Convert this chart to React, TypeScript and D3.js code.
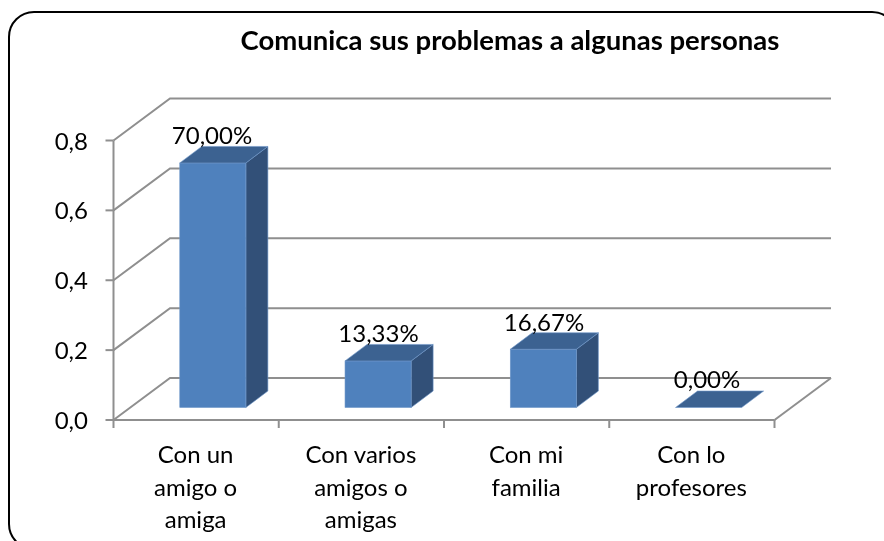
import React, { useEffect, useRef } from 'react';
import * as d3 from 'd3';

// Datos
const categories: string[][] = [
  ['Con un', 'amigo o', 'amiga'],
  ['Con varios', 'amigos o', 'amigas'],
  ['Con mi', 'familia'],
  ['Con lo', 'profesores'],
];
const values = [0.7, 0.1333, 0.1667, 0];
const valueLabels = ['70,00%', '13,33%', '16,67%', '0,00%'];
const yTicks = [0, 0.2, 0.4, 0.6, 0.8];
const title = 'Comunica sus problemas a algunas personas';

const FONT = 'Lato, Carlito, Calibri, sans-serif';

const App = () => {
  const ref = useRef<SVGSVGElement>(null);

  useEffect(() => {
    const svg = d3.select(ref.current);
    svg.selectAll('*').remove();

    const width = 884;
    const height = 541;

    // marco (se corta por la derecha y por abajo)
    svg
      .append('rect')
      .attr('x', 9)
      .attr('y', 12)
      .attr('width', 888)
      .attr('height', 537)
      .attr('rx', 25)
      .attr('fill', 'white')
      .attr('stroke', 'black')
      .attr('stroke-width', 2);

    const x0 = 113.5;
    const x1 = 774.5;
    const y = d3.scaleLinear().domain([0, 0.8]).range([420, 140.5]);
    const x = d3
      .scaleBand<number>()
      .domain(d3.range(categories.length))
      .range([x0, x1]);

    // profundidad del piso y de cada barra
    const wallDx = 56.5;
    const wallDy = -42;
    const barDx = 22;
    const barDy = -16.5;
    const barOffX = 16.7;
    const barOffY = -12.5;
    const barW = x.bandwidth() * 0.4;

    const grid = '#8f8f8f';
    const axes = svg.append('g').attr('fill', 'none').attr('stroke', grid).attr('stroke-width', 2);
    const path = d3.line();

    yTicks.forEach(t => {
      const yy = y(t);
      axes
        .append('path')
        .attr('d', path([[x0, yy], [x0 + wallDx, yy + wallDy], [x1 + wallDx, yy + wallDy]]));
      axes.append('line').attr('x1', x0 - 8).attr('x2', x0).attr('y1', yy).attr('y2', yy);
    });
    // piso y ejes frontales
    axes
      .append('path')
      .attr('d', path([[x1, y(0)], [x1 + wallDx, y(0) + wallDy]]));
    axes.append('line').attr('x1', x0).attr('x2', x0).attr('y1', y(0.8)).attr('y2', y(0));
    axes.append('line').attr('x1', x0).attr('x2', x1).attr('y1', y(0)).attr('y2', y(0));
    d3.range(categories.length + 1).forEach(i => {
      const xx = x0 + i * x.bandwidth();
      axes.append('line').attr('x1', xx).attr('x2', xx).attr('y1', y(0)).attr('y2', y(0) + 8);
    });

    // barras
    const bars = svg.append('g');
    values.forEach((v, i) => {
      const left = x(i)! + (x.bandwidth() - barW) / 2 + barOffX;
      const right = left + barW;
      const bottom = y(0) + barOffY;
      const top = bottom - (y(0) - y(v));
      const g = bars.append('g').attr('stroke', '#6f97c9').attr('stroke-width', 0.6);
      if (v > 0) {
        g.append('path')
          .attr('fill', '#325078')
          .attr('d', path([[right, bottom], [right + barDx, bottom + barDy], [right + barDx, top + barDy], [right, top]]) + 'Z');
        g.append('rect')
          .attr('x', left)
          .attr('y', top)
          .attr('width', barW)
          .attr('height', bottom - top)
          .attr('fill', '#4f81bd');
      }
      g.append('path')
        .attr('fill', '#3c6291')
        .attr('d', path([[left, top], [left + barDx, top + barDy], [right + barDx, top + barDy], [right, top]]) + 'Z');
    });

    const text = svg.append('g').style('font-family', FONT).attr('fill', 'black');

    // etiquetas de valores
    const labelCx = [212, 378.5, 544, 707];
    const labelBase = [144, 342, 331, 388];
    valueLabels.forEach((l, i) => {
      text
        .append('text')
        .attr('x', labelCx[i])
        .attr('y', labelBase[i])
        .attr('text-anchor', 'middle')
        .style('font-size', '24px')
        .text(l);
    });

    // eje y
    yTicks.forEach(t => {
      text
        .append('text')
        .attr('x', 88)
        .attr('y', y(t) + 9)
        .attr('text-anchor', 'end')
        .style('font-size', '24px')
        .text(d3.format('.1f')(t).replace('.', ','));
    });

    // categorias
    categories.forEach((lines, i) => {
      lines.forEach((l, j) => {
        text
          .append('text')
          .attr('x', x(i)! + x.bandwidth() / 2 - 0.5)
          .attr('y', 463 + j * 32.5)
          .attr('text-anchor', 'middle')
          .style('font-size', '24px')
          .text(l);
      });
    });

    // titulo
    text
      .append('text')
      .attr('x', 510)
      .attr('y', 50)
      .attr('text-anchor', 'middle')
      .style('font-size', '27.5px')
      .style('font-weight', 'bold')
      .text(title);

    svg.attr('viewBox', `0 0 ${width} ${height}`);
  }, []);

  return (
    <svg
      ref={ref}
      width={884}
      height={541}
      style={{ position: 'fixed', left: 0, top: 0, display: 'block' }}
    />
  );
};

export default App;
